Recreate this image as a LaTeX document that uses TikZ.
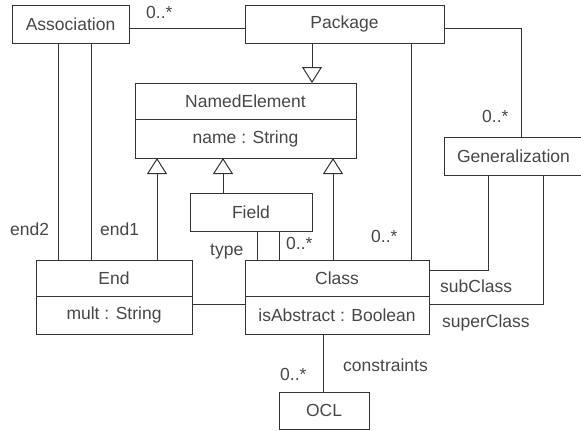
\documentclass[tikz,border=0pt]{standalone}
\usepackage{fontspec}
\setmainfont{Liberation Sans}
\usetikzlibrary{positioning,arrows.meta}

\newcommand{\umlfont}{\fontsize{17.5}{20}\selectfont}

\tikzset{
    box/.style={draw=black!80, line width=1pt, fill=white, inner sep=0pt,
        outer sep=0pt, text=black!72, font=\umlfont},
    link/.style={draw=black!80, line width=1pt},
    gen/.style={link, -{Triangle[open, length=16pt, width=20pt]}},
    role/.style={anchor=base west, inner sep=0pt, text=black!72, font=\umlfont},
}

\begin{document}
\begin{tikzpicture}[x=1pt, y=-1pt]
    \useasboundingbox (0,0) rectangle (581,431);

    % Classes (pixel coordinates, y grows downward)
    \node[box, minimum width=117pt, minimum height=38pt] (assoc) at (70.5,24) {Association};
    \node[box, minimum width=199pt, minimum height=38pt] (package) at (344.5,24) {Package};
    \node[box, minimum width=221pt, minimum height=36pt] (named) at (245.5,101) {NamedElement};
    \node[box, minimum width=221pt, minimum height=39pt, below=0pt of named] (namedattr) {name : String};
    \node[box, minimum width=139pt, minimum height=38pt] (gen) at (513.5,156) {Generalization};
    \node[box, minimum width=122pt, minimum height=38pt] (field) at (251,212) {Field};
    \node[box, minimum width=156pt, minimum height=36pt] (endn) at (114,278) {End};
    \node[box, minimum width=156pt, minimum height=38pt, below=0pt of endn] (endattr) {mult : String};
    \node[box, minimum width=184pt, minimum height=36pt] (cls) at (337,278) {Class};
    \node[box, minimum width=184pt, minimum height=38pt, below=0pt of cls] (clsattr) {isAbstract : Boolean};
    \node[box, minimum width=90pt, minimum height=37pt] (ocl) at (324,410.5) {OCL};

    % Associations
    \draw[link] (assoc.east |- 0,28) -- (package.west |- 0,28);
    \draw[link] (package.east |- 0,28) -| (gen.north -| 521,0);
    \draw[link] (package.south -| 411,0) -- (cls.north -| 411,0);
    \draw[link] (gen.south -| 488,0) |- (cls.east |- 0,270);
    \draw[link] (gen.south -| 543,0) |- (clsattr.east |- 0,304);
    \draw[link] (endattr.east |- 0,304) -- (clsattr.west |- 0,304);
    \draw[link] (clsattr.south -| 323,0) -- (ocl.north -| 323,0);
    \foreach \x in {58, 91} {
        \draw[link] (assoc.south -| \x,0) -- (endn.north -| \x,0);
    }
    \foreach \x in {257, 279} {
        \draw[link] (field.south -| \x,0) -- (cls.north -| \x,0);
    }

    % Generalizations
    \draw[gen] (package.south -| 312,0) -- (named.north -| 312,0);
    \foreach \src/\x in {endn/157, field/223, cls/333} {
        \draw[gen] (\src.north -| \x,0) -- (namedattr.south -| \x,0);
    }

    % Roles and multiplicities
    \node[role] (multassoc) at (146,18) {0..*};
    \node[role] (multgen) at (482,122) {0..*};
    \node[role] (multcls) at (371,242) {0..*};
    \node[role] (multfield) at (286,249) {0..*};
    \node[role] (roletype) at (210,255) {type};
    \node[role] (roleend2) at (10,235) {end2};
    \node[role] (roleend1) at (100,235) {end1};
    \node[role] (rolesub) at (440,292) {subClass};
    \node[role] (rolesuper) at (442,327) {superClass};
    \node[role] (rolecons) at (343,371) {constraints};
    \node[role] (multocl) at (280,380) {0..*};
\end{tikzpicture}
\end{document}
